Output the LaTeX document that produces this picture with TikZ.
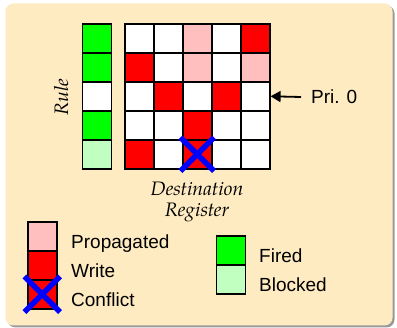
\documentclass[tikz,border=0pt]{standalone}
\usepackage{fontspec}
\setsansfont{Liberation Sans}
\newfontfamily\palit[Extension=.otf,UprightFont=texgyrepagella-italic]{texgyrepagella-italic}
\usetikzlibrary{arrows.meta}
\definecolor{bgc}{HTML}{FEEBC1}
\definecolor{shadowc}{HTML}{9A9A9A}
\definecolor{propc}{HTML}{FFBFBF}
\definecolor{writec}{HTML}{FF0000}
\definecolor{firedc}{HTML}{00FF00}
\definecolor{blockc}{HTML}{C0FFC0}
\definecolor{xc}{HTML}{0000FF}
\tikzset{
  cell/.style={draw=black, line width=1.6pt, minimum size=29pt, inner sep=0pt, anchor=north west},
  W/.style={cell, fill=white},
  P/.style={cell, fill=propc},
  R/.style={cell, fill=writec},
  G/.style={cell, fill=firedc},
  L/.style={cell, fill=blockc},
  sanslbl/.style={font=\sffamily\fontsize{19}{22}\selectfont, inner sep=0pt},
  itlbl/.style={font=\palit\fontsize{19.5}{21}\selectfont, inner sep=0pt},
  xmark/.style={draw=xc, line width=5.5pt},
  arr/.style={line width=1.8pt, -{Triangle[length=10pt,width=11pt]}}
}
\begin{document}
\begin{tikzpicture}[x=1pt,y=-1pt]
\useasboundingbox (0,0) rectangle (397,328);
\fill[shadowc, rounded corners=8pt] (7.5,5.5) rectangle (394.5,327.5);
\fill[bgc, rounded corners=8pt] (5.5,3.5) rectangle (392.5,325.5);
% rule column
\foreach \r/\s in {0/G,1/G,2/W,3/G,4/L}
  \node[\s] (r-\r) at (81.5, 23+29*\r) {};
% matrix
\foreach \r/\row in {0/{W,W,P,W,R},1/{R,W,P,W,P},2/{W,R,W,R,W},3/{W,W,R,W,W},4/{R,W,R,W,W}}{
  \foreach \s [count=\c from 0] in \row
    \node[\s] (m-\r-\c) at (124+29*\c, 23+29*\r) {};
}
\draw[xmark] ([shift={(-1.5,-1.5)}]m-4-2.north west) -- ([shift={(1.5,1.5)}]m-4-2.south east);
\draw[xmark] ([shift={(1.5,-1.5)}]m-4-2.north east) -- ([shift={(-1.5,1.5)}]m-4-2.south west);
% labels
\node[sanslbl, anchor=west] (pri) at (311,97) {Pri. 0};
\draw[arr] ([xshift=-10pt]pri.west) -- (m-2-4.east);
\node[itlbl, rotate=90] (rule) at (61,97) {Rule};
\node[itlbl, align=center] (dest) at (197,202) {Destination\\Register};
% legend left
\node[P] (lp) at (27,221) {};
\node[R] (lw) at (27,250) {};
\node[R] (lc) at (27,279) {};
\draw[xmark] ([shift={(-2.5,-2.5)}]lc.north west) -- ([shift={(2.5,2.5)}]lc.south east);
\draw[xmark] ([shift={(2.5,-2.5)}]lc.north east) -- ([shift={(-2.5,2.5)}]lc.south west);
\node[sanslbl, anchor=base west] (tp) at (71,249) {Propagated};
\node[sanslbl, anchor=base west] (tw) at (71,278) {Write};
\node[sanslbl, anchor=base west] (tc) at (71,307) {Conflict};
% legend right
\node[G] (lf) at (215.5,235.5) {};
\node[L] (lb) at (215.5,264.5) {};
\node[sanslbl, anchor=base west] (tf) at (259,263) {Fired};
\node[sanslbl, anchor=base west] (tb) at (259,292) {Blocked};
\end{tikzpicture}
\end{document}
